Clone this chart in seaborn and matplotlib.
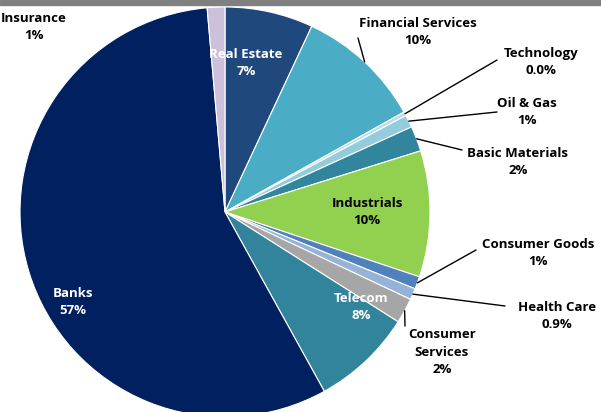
import numpy as np
import matplotlib
matplotlib.use("Agg")
from matplotlib import pyplot as plt
import seaborn as sns

sectors = ["Real Estate", "Financial Services", "Technology", "Oil & Gas", "Basic Materials",
           "Industrials", "Consumer Goods", "Health Care", "Consumer Services", "Telecom",
           "Banks", "Insurance"]
shares = [7, 10, 0.3, 1, 2, 10, 1, 0.9, 2, 8, 57, 1.4]
pct_labels = ["7%", "10%", "0.0%", "1%", "2%", "10%", "1%", "0.9%", "2%", "8%", "57%", "1%"]
colors = ["#1f497d", "#4bacc6", "#b7dde8", "#93cddd", "#31859c", "#92d050", "#4f81bd",
          "#95b3d7", "#a6a6a6", "#31849b", "#002060", "#ccc0da"]

sns.set_theme(style="white")
plt.rcParams["font.family"] = ["Open Sans", "DejaVu Sans"]

fig = plt.figure(figsize=(6.01, 4.12), dpi=100)
fig.patches.append(plt.Rectangle((0, 1 - 5 / 412), 1, 5 / 412, transform=fig.transFigure,
                                 color="#808080", zorder=0))
ax = fig.add_axes([20 / 601, -5 / 412, 410 / 601, 410 / 412])
wedges, _ = ax.pie(shares, colors=colors, startangle=90, counterclock=False, radius=1,
                   wedgeprops=dict(edgecolor="white", linewidth=0.8))
ax.set_xlim(-1, 1)
ax.set_ylim(-1, 1)
ax.set_aspect("equal")
ax.axis("off")


def px(x, y):
    return (x - 225) / 205, (212 - y) / 205


inside = {"Real Estate": ((246, 63), "white"), "Industrials": ((367, 212), "black"),
          "Telecom": ((361, 307), "white"), "Banks": ((73, 302), "white")}
outside = {"Insurance": ((34, 27), None),
           "Financial Services": ((418, 32), (358, 38)),
           "Technology": ((541, 62), (497, 60)),
           "Oil & Gas": ((527, 112), (497, 112)),
           "Basic Materials": ((518, 162), (462, 150)),
           "Consumer Goods": ((538, 253), (476, 250)),
           "Health Care": ((557, 316), (505, 306)),
           "Consumer Services": ((442, 352), (405, 326))}

for w, name, pct in zip(wedges, sectors, pct_labels):
    mid = np.deg2rad((w.theta1 + w.theta2) / 2)
    edge = (np.cos(mid), np.sin(mid))
    txt = name + "\n" + pct
    if name == "Consumer Services":
        txt = "Consumer\nServices\n" + pct
    if name in inside:
        pos, c = inside[name]
        ax.text(*px(*pos), txt, ha="center", va="center", color=c, fontsize=9.5,
                fontweight="bold", linespacing=1.45)
    else:
        pos, lend = outside[name]
        ax.text(*px(*pos), txt, ha="center", va="center", color="black", fontsize=9.5,
                fontweight="bold", linespacing=1.45, clip_on=False)
        if lend is not None:
            ax.plot([edge[0], px(*lend)[0]], [edge[1], px(*lend)[1]], color="black",
                    lw=1, clip_on=False)

fig.savefig("out.png", dpi=100)
